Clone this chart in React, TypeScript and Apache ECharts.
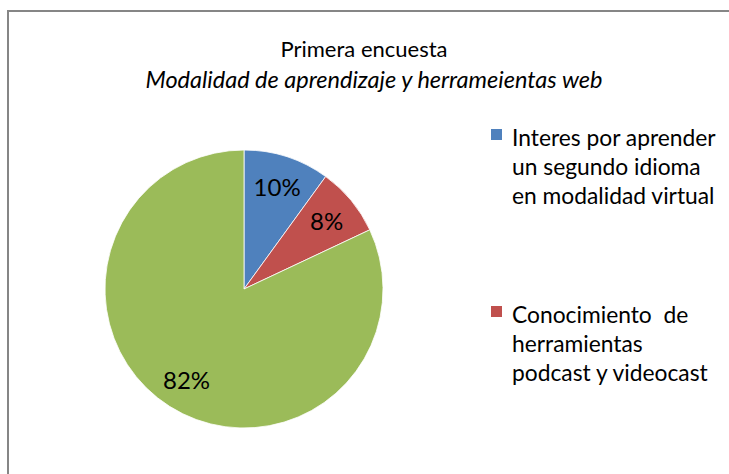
import { useEffect, useRef } from "react";
import * as echarts from "echarts";

const categories = [
  "Interes por aprender\nun segundo idioma\nen modalidad virtual",
  "Conocimiento  de\nherramientas\npodcast y videocast",
  "",
];
const values = [10, 8, 82];
const colors = ["#4F81BD", "#C0504D", "#9BBB59"];
const legendNames = categories.slice(0, 2);
const titleText = "Primera encuesta";
const subtitleText = "Modalidad de aprendizaje y herrameientas web";

const FONT = "Lato";

export default function App() {
  const ref = useRef<HTMLDivElement>(null);
  useEffect(() => {
    if (!ref.current) return;
    const chart = echarts.init(ref.current, undefined, { renderer: "svg" });
    const center = [244, 289];
    const R = 139;
    chart.setOption({
      animation: false,
      backgroundColor: "#ffffff",
      title: [
        {
          text: titleText,
          left: 364,
          top: 37,
          textAlign: "center",
          padding: 0,
          textStyle: { fontFamily: FONT, fontSize: 22, fontWeight: "normal", color: "#000", lineHeight: 22 },
        },
        {
          text: subtitleText,
          left: 374,
          top: 67.3,
          textAlign: "center",
          padding: 0,
          textStyle: { fontFamily: FONT, fontSize: 23.5, fontStyle: "italic", fontWeight: "normal", color: "#000", lineHeight: 23.5 },
        },
      ],
      graphic: [
        {
          type: "rect",
          silent: true,
          z: -10,
          shape: { x: 8, y: 11, width: 780, height: 520 },
          style: { fill: "none", stroke: "#868686", lineWidth: 2 },
        },
      ],
      legend: {
        orient: "vertical",
        left: 491,
        top: 122.2,
        padding: 0,
        itemGap: 90,
        itemWidth: 16,
        itemHeight: 87,
        icon: "path://M0,0M0,6.8H11V17.8H0ZM16,87",
        symbolKeepAspect: false,
        selectedMode: false,
        itemStyle: { borderWidth: 0 },
        data: legendNames,
        textStyle: { fontFamily: FONT, fontSize: 22.8, lineHeight: 29, color: "#000" },
      },
      series: [
        {
          type: "pie",
          center,
          radius: [0, R],
          startAngle: 90,
          clockwise: true,
          data: categories.map((n, i) => ({ name: n, value: values[i], itemStyle: { color: colors[i] } })),
          label: { show: false },
          labelLine: { show: false },
          itemStyle: { borderColor: "#ffffff", borderWidth: 0.8 },
          emphasis: { disabled: true },
        },
        {
          type: "pie",
          center,
          radius: [R / 2, R],
          startAngle: 90,
          clockwise: true,
          silent: true,
          data: categories.map((n, i) => ({ name: n, value: values[i] })),
          itemStyle: { color: "rgba(0,0,0,0)", borderWidth: 0 },
          label: {
            show: true,
            position: "inside",
            formatter: "{c}%",
            fontFamily: FONT,
            fontSize: 24,
            color: "#000",
          },
          labelLine: { show: false },
          emphasis: { disabled: true },
        },
      ],
    });
    return () => chart.dispose();
  }, []);
  return (
    <div
      ref={ref}
      style={{ position: "absolute", left: 0, top: 0, width: 729, height: 474, background: "#fff" }}
    />
  );
}
